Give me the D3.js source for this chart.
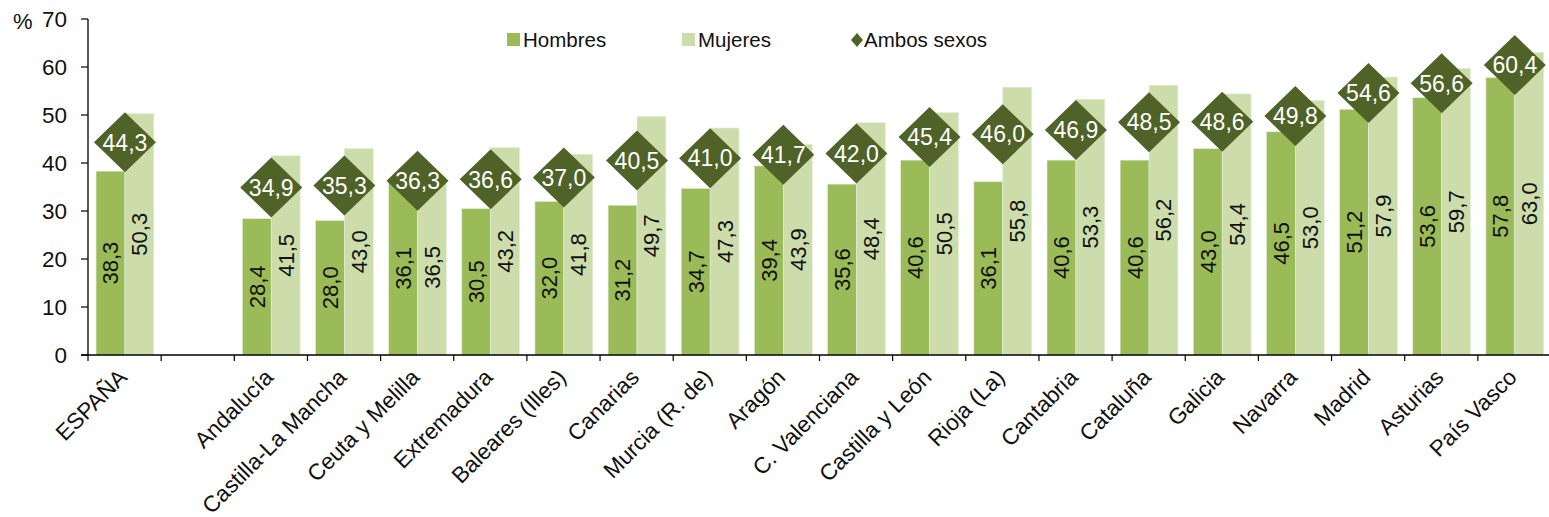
<!DOCTYPE html>
<html>
<head>
<meta charset="utf-8">
<script src="https://cdn.jsdelivr.net/npm/d3@7"></script>
<style>
  html, body { margin: 0; padding: 0; background: #fff; }
  svg { display: block; font-family: "Liberation Sans", Arial, sans-serif; }
</style>
</head>
<body>
<svg id="chart" width="1549" height="517"></svg>
<script>
// ---- data ----
const categories = ["ESPAÑA", " ", "Andalucía", "Castilla-La Mancha", "Ceuta y Melilla", "Extremadura",
  "Baleares (Illes)", "Canarias", "Murcia (R. de)", "Aragón", "C. Valenciana", "Castilla y León",
  "Rioja (La)", "Cantabria", "Cataluña", "Galicia", "Navarra", "Madrid", "Asturias", "País Vasco"];
const hombres = [38.3, null, 28.4, 28.0, 36.1, 30.5, 32.0, 31.2, 34.7, 39.4, 35.6, 40.6, 36.1, 40.6, 40.6, 43.0, 46.5, 51.2, 53.6, 57.8];
const mujeres = [50.3, null, 41.5, 43.0, 36.5, 43.2, 41.8, 49.7, 47.3, 43.9, 48.4, 50.5, 55.8, 53.3, 56.2, 54.4, 53.0, 57.9, 59.7, 63.0];
const ambos   = [44.3, null, 34.9, 35.3, 36.3, 36.6, 37.0, 40.5, 41.0, 41.7, 42.0, 45.4, 46.0, 46.9, 48.5, 48.6, 49.8, 54.6, 56.6, 60.4];
const seriesNames = ["Hombres", "Mujeres", "Ambos sexos"];
const yTicks = [0, 10, 20, 30, 40, 50, 60, 70];

// ---- style ----
const colH = "#9BBB59", colM = "#CCDDAB", colA = "#4F6228";
const fmt = v => v.toFixed(1).replace(".", ",");

const svg = d3.select("#chart");
const mLeft = 88, mRight = 1551, mTop = 19, mBottom = 355;

const x0 = d3.scaleBand().domain(categories).range([mLeft, mRight]).padding(0);
const bw = x0.bandwidth();
const x1 = d3.scaleBand().domain(["H", "M"]).range([bw * 0.11, bw * 0.90]).padding(0);
const y = d3.scaleLinear().domain([0, 70]).range([mBottom, mTop]);

const rows = categories.map((c, i) => ({ c, h: hombres[i], m: mujeres[i], a: ambos[i] }))
  .filter(d => d.h != null);

// bars
const g = svg.append("g");
rows.forEach(d => {
  [["H", d.h, colH], ["M", d.m, colM]].forEach(([k, v, col]) => {
    g.append("rect")
      .attr("x", x0(d.c) + x1(k))
      .attr("y", y(v))
      .attr("width", x1.bandwidth())
      .attr("height", y(0) - y(v))
      .attr("fill", col)
      .attr("stroke", "#e4edd6").attr("stroke-width", 0.6);
  });
});

// bar labels (rotated)
rows.forEach(d => {
  [["H", d.h], ["M", d.m]].forEach(([k, v]) => {
    const cx = x0(d.c) + x1(k) + x1.bandwidth() / 2;
    const cy = y(v / 2);
    g.append("text")
      .attr("transform", `translate(${cx},${cy}) rotate(-90)`)
      .attr("text-anchor", "middle")
      .attr("dy", "0.36em")
      .attr("font-size", 22)
      .attr("fill", "#111")
      .text(fmt(v));
  });
});

// diamonds
const dw = 31, dh = 30;
rows.forEach(d => {
  const cx = x0(d.c) + bw * 0.505;
  const cy = y(d.a);
  g.append("path")
    .attr("d", `M${cx},${cy - dh}L${cx + dw},${cy}L${cx},${cy + dh}L${cx - dw},${cy}Z`)
    .attr("fill", colA);
  g.append("text")
    .attr("x", cx).attr("y", cy)
    .attr("text-anchor", "middle")
    .attr("dy", "0.36em")
    .attr("font-size", 23)
    .attr("fill", "#fff")
    .text(fmt(d.a));
});

// y axis
const ya = svg.append("g");
ya.append("line").attr("x1", mLeft).attr("x2", mLeft).attr("y1", y(70)).attr("y2", y(0))
  .attr("stroke", "#000").attr("stroke-width", 1.3);
yTicks.forEach(t => {
  ya.append("line").attr("x1", mLeft - 7).attr("x2", mLeft).attr("y1", y(t)).attr("y2", y(t))
    .attr("stroke", "#000").attr("stroke-width", 1.2);
  ya.append("text").attr("x", 67).attr("y", y(t)).attr("dy", "0.36em")
    .attr("text-anchor", "end").attr("font-size", 22.5).attr("fill", "#111").text(t);
});
ya.append("text").attr("x", 13).attr("y", y(70)).attr("dy", "0.45em")
  .attr("font-size", 22).attr("fill", "#111").text("%");

// x axis
const xa = svg.append("g");
xa.append("line").attr("x1", mLeft - 7).attr("x2", 1549).attr("y1", y(0)).attr("y2", y(0))
  .attr("stroke", "#000").attr("stroke-width", 1.3);
categories.forEach(c => {
  xa.append("line").attr("x1", x0(c)).attr("x2", x0(c)).attr("y1", y(0)).attr("y2", y(0) + 6)
    .attr("stroke", "#000").attr("stroke-width", 1.2);
});
categories.forEach(c => {
  if (c.trim() === "") return;
  const cx = x0(c) + bw / 2;
  xa.append("text")
    .attr("transform", `translate(${cx - 2},${y(0) + 18}) rotate(-45)`)
    .attr("text-anchor", "end")
    .attr("dy", "0.36em")
    .attr("font-size", 22.5)
    .attr("fill", "#111")
    .text(c);
});

// legend
const leg = svg.append("g");
const legItems = [
  { name: seriesNames[0], col: colH, x: 507, shape: "rect" },
  { name: seriesNames[1], col: colM, x: 682, shape: "rect" },
  { name: seriesNames[2], col: colA, x: 851, shape: "diamond" }
];
legItems.forEach(it => {
  if (it.shape === "rect") {
    leg.append("rect").attr("x", it.x).attr("y", 33).attr("width", 13).attr("height", 13).attr("fill", it.col);
  } else {
    const cx = it.x + 6, cy = 40;
    leg.append("path").attr("d", `M${cx},${cy - 7}L${cx + 6},${cy}L${cx},${cy + 7}L${cx - 6},${cy}Z`).attr("fill", it.col);
  }
  leg.append("text").attr("x", it.x + (it.shape === "rect" ? 16 : 13)).attr("y", 40).attr("dy", "0.36em")
    .attr("font-size", 20.5).attr("fill", "#111").text(it.name);
});
</script>
</body>
</html>
